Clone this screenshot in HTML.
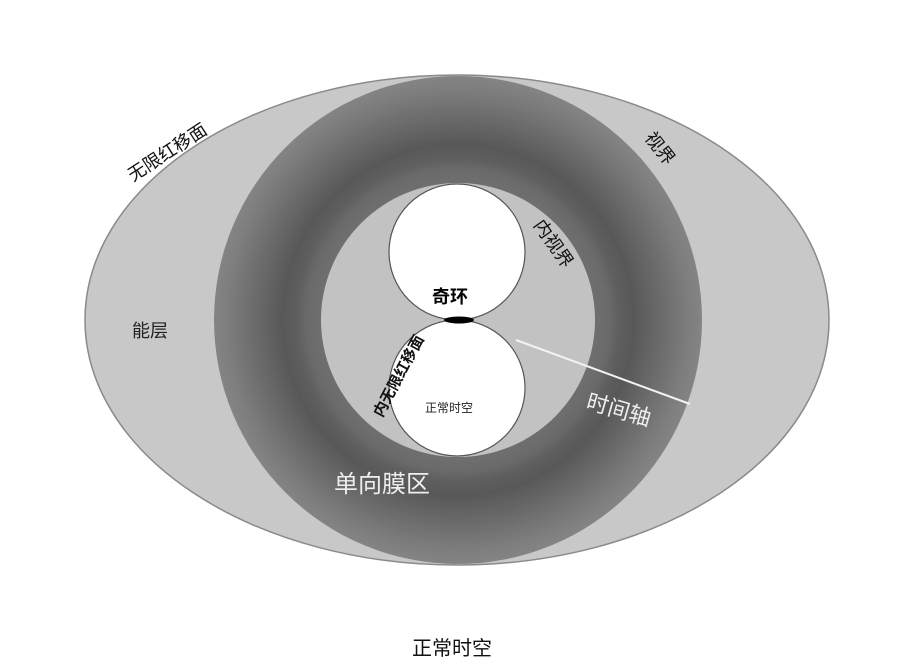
<!DOCTYPE html>
<html><head><meta charset="utf-8"><style>
html,body{margin:0;padding:0;background:#fff;width:908px;height:667px;overflow:hidden}
text{font-family:"Liberation Sans","Noto Sans CJK SC",sans-serif}
</style></head><body>
<svg width="908" height="667" viewBox="0 0 908 667">
<defs>
<radialGradient id="ring" cx="458" cy="320" r="244" gradientUnits="userSpaceOnUse">
<stop offset="0.55" stop-color="#707070"/>
<stop offset="0.62" stop-color="#6a6a6a"/>
<stop offset="0.66" stop-color="#5f5f5f"/>
<stop offset="0.72" stop-color="#585858"/>
<stop offset="0.78" stop-color="#626262"/>
<stop offset="0.84" stop-color="#6c6c6c"/>
<stop offset="0.90" stop-color="#767676"/>
<stop offset="0.95" stop-color="#7e7e7e"/>
<stop offset="1" stop-color="#848484"/>
</radialGradient>
</defs>
<ellipse cx="457" cy="320" rx="372" ry="245" fill="#c8c8c8" stroke="#8a8a8a" stroke-width="1.5"/>
<circle cx="458" cy="320" r="244" fill="url(#ring)"/>
<circle cx="458" cy="320" r="137" fill="#c2c2c2"/>
<circle cx="457" cy="252" r="68" fill="#fff" stroke="#555" stroke-width="1.2"/>
<circle cx="457" cy="388" r="68" fill="#fff" stroke="#555" stroke-width="1.2"/>
<ellipse cx="459" cy="320" rx="15" ry="3.5" fill="#000"/>
<line x1="516" y1="340" x2="690" y2="404" stroke="#f2f2f2" stroke-width="2"/>
<text x="0" y="0" font-size="18" fill="#111" transform="translate(133,182) rotate(-33)">无限红移面</text>
<text x="0" y="0" font-size="18" fill="#111" transform="translate(644,138) rotate(52)">视界</text>
<text x="0" y="0" font-size="18" fill="#111" transform="translate(533,225) rotate(55)">内视界</text>
<text x="432" y="303" font-size="18" font-weight="bold" fill="#000">奇环</text>
<text x="0" y="0" font-size="15" font-weight="bold" fill="#111" transform="translate(382,418) rotate(-62)">内无限红移面</text>
<text x="425" y="412" font-size="12" fill="#222">正常时空</text>
<text x="0" y="0" font-size="22" fill="#eee" transform="translate(585,408) rotate(16)">时间轴</text>
<text x="334" y="492" font-size="24" fill="#eee">单向膜区</text>
<text x="132" y="337" font-size="18" fill="#222">能层</text>
<text x="412" y="655" font-size="20" fill="#111">正常时空</text>
</svg>
</body></html>
